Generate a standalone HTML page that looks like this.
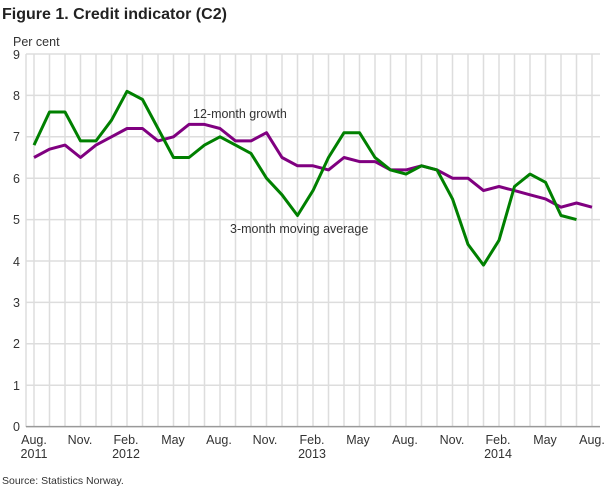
<!DOCTYPE html>
<html><head><meta charset="utf-8"><style>
body{margin:0;background:#fff;width:610px;height:488px;overflow:hidden;font-family:"Liberation Sans",sans-serif}
</style></head><body>
<svg id="s" width="610" height="488" xmlns="http://www.w3.org/2000/svg" font-family="Liberation Sans, sans-serif">
<rect width="610" height="488" fill="#fff"/>
<text x="2" y="19" font-size="16" font-weight="bold" fill="#222">Figure 1. Credit indicator (C2)</text>
<text x="13" y="46" font-size="12.5" fill="#333">Per cent</text>
<g id="grid"></g>
<g font-size="12.5" fill="#333" text-anchor="end" id="ylab"></g>
<g font-size="12.5" fill="#333" text-anchor="middle">
<text x="34" y="444">Aug.</text><text x="34" y="458">2011</text>
<text x="80" y="444">Nov.</text>
<text x="126" y="444">Feb.</text><text x="126" y="458">2012</text>
<text x="173" y="444">May</text>
<text x="219" y="444">Aug.</text>
<text x="265" y="444">Nov.</text>
<text x="312" y="444">Feb.</text><text x="312" y="458">2013</text>
<text x="358" y="444">May</text>
<text x="405" y="444">Aug.</text>
<text x="452" y="444">Nov.</text>
<text x="498" y="444">Feb.</text><text x="498" y="458">2014</text>
<text x="545" y="444">May</text>
<text x="592" y="444">Aug.</text>
</g>
<g id="lines"></g>
<text x="193" y="118" font-size="12.5" fill="#333">12-month growth</text>
<text x="230" y="233" font-size="12.5" fill="#333">3-month moving average</text>
<text x="2" y="484" font-size="10.5" fill="#333">Source: Statistics Norway.</text>
</svg>
<script>
var ns="http://www.w3.org/2000/svg";
function el(t,a,p){var e=document.createElementNS(ns,t);for(var k in a)e.setAttribute(k,a[k]);document.getElementById(p).appendChild(e);return e;}
var X=function(m){return 34+m*15.5;},Y=function(v){return 426.6-v*41.4;};
for(var m=0;m<=37;m++){var x=X(m);if(x>600)break;el("line",{x1:x,x2:x,y1:54,y2:427,stroke:"#ddd","stroke-width":1.5},"grid");}
el("line",{x1:26,x2:26,y1:54,y2:427,stroke:"#ddd","stroke-width":1.5},"grid");
for(var v=0;v<=9;v++){el("line",{x1:26,x2:600,y1:Y(v),y2:Y(v),stroke:v==0?"#999":"#ddd","stroke-width":1.5},"grid");}
var g=[6.8,7.6,7.6,6.9,6.9,7.4,8.1,7.9,7.2,6.5,6.5,6.8,7.0,6.8,6.6,6.0,5.6,5.1,5.7,6.5,7.1,7.1,6.5,6.2,6.1,6.3,6.2,5.5,4.4,3.9,4.5,5.8,6.1,5.9,5.1,5.0];
var p=[6.5,6.7,6.8,6.5,6.8,7.0,7.2,7.2,6.9,7.0,7.3,7.3,7.2,6.9,6.9,7.1,6.5,6.3,6.3,6.2,6.5,6.4,6.4,6.2,6.2,6.3,6.2,6.0,6.0,5.7,5.8,5.7,5.6,5.5,5.3,5.4,5.3];
function pts(a){return a.map(function(v,i){return X(i).toFixed(1)+","+Y(v).toFixed(1)}).join(" ");}
el("polyline",{points:pts(p),fill:"none",stroke:"#800080","stroke-width":3,"stroke-linejoin":"round"},"lines");
el("polyline",{points:pts(g),fill:"none",stroke:"#008000","stroke-width":3,"stroke-linejoin":"round"},"lines");
</script>
<svg width="0" height="0"></svg>
<div style="position:absolute;left:0;top:0">
<svg width="30" height="440" style="position:absolute;left:0;top:0" font-family="Liberation Sans, sans-serif" font-size="12.5" fill="#333">
<text x="20" y="431" text-anchor="end">0</text>
<text x="20" y="390" text-anchor="end">1</text>
<text x="20" y="348" text-anchor="end">2</text>
<text x="20" y="307" text-anchor="end">3</text>
<text x="20" y="266" text-anchor="end">4</text>
<text x="20" y="224" text-anchor="end">5</text>
<text x="20" y="183" text-anchor="end">6</text>
<text x="20" y="141" text-anchor="end">7</text>
<text x="20" y="100" text-anchor="end">8</text>
<text x="20" y="59" text-anchor="end">9</text>
</svg></div>
</body></html>
